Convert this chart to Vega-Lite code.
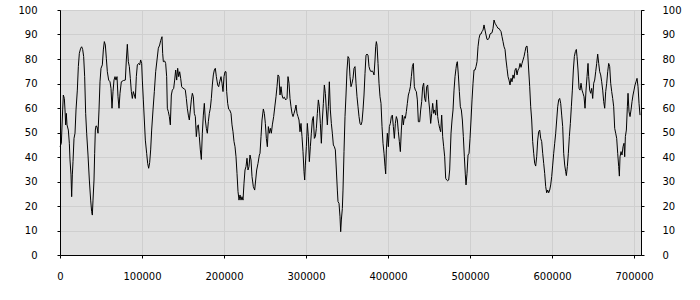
{
"$schema": "https://vega.github.io/schema/vega-lite/v6.json",
"width": 581, "height": 245,
"autosize": {"type": "none"},
"padding": {"left": 60, "top": 10, "right": 59, "bottom": 45},
"background": "white",
"config": {
 "view": {"fill": "#e0e0e0", "stroke": "#000000", "strokeWidth": 1},
 "axis": {"labelFont": "DejaVu Sans", "labelFontSize": 10, "labelColor": "#000000", "domainColor": "#000000", "tickColor": "#000000", "tickSize": 3, "gridColor": "#cfcfcf", "gridWidth": 1}
},
"data": {"values": [
{"t":0,"v":44.2},{"t":1626,"v":45.6},{"t":3252,"v":59.2},{"t":4065,"v":65.3},{"t":5285,"v":63.9},{"t":6098,"v":59.2},{"t":6911,"v":53.1},{"t":7724,"v":57.8},{"t":8537,"v":53.1},{"t":10163,"v":51.0},{"t":11382,"v":45.6},{"t":12195,"v":38.8},{"t":13415,"v":32.7},{"t":14228,"v":23.8},{"t":15041,"v":32.7},{"t":15854,"v":38.1},{"t":17073,"v":47.6},{"t":18293,"v":49.7},{"t":19512,"v":59.2},{"t":21138,"v":67.3},{"t":22358,"v":76.9},{"t":23577,"v":82.3},{"t":25203,"v":84.4},{"t":26423,"v":85.0},{"t":27642,"v":83.9},{"t":28862,"v":81.0},{"t":30081,"v":72.8},{"t":31301,"v":57.8},{"t":32520,"v":49.7},{"t":34146,"v":40.8},{"t":35772,"v":30.6},{"t":37398,"v":22.4},{"t":38618,"v":17.7},{"t":39431,"v":16.3},{"t":40244,"v":22.4},{"t":41463,"v":30.6},{"t":42276,"v":41.5},{"t":43089,"v":51.0},{"t":43902,"v":52.7},{"t":45122,"v":52.4},{"t":46341,"v":49.7},{"t":47561,"v":59.2},{"t":48780,"v":70.7},{"t":50000,"v":76.2},{"t":51626,"v":77.6},{"t":52845,"v":83.7},{"t":54065,"v":87.1},{"t":55284,"v":85.7},{"t":56504,"v":80.3},{"t":57723,"v":74.8},{"t":59349,"v":71.4},{"t":60975,"v":70.7},{"t":62195,"v":68.0},{"t":63414,"v":59.9},{"t":64634,"v":66.7},{"t":65853,"v":71.4},{"t":67073,"v":72.8},{"t":68292,"v":71.4},{"t":69512,"v":72.8},{"t":70731,"v":64.6},{"t":71951,"v":59.9},{"t":73170,"v":66.0},{"t":74796,"v":70.7},{"t":77235,"v":71.2},{"t":79674,"v":71.4},{"t":80894,"v":79.6},{"t":82113,"v":86.0},{"t":83333,"v":78.9},{"t":84552,"v":76.9},{"t":85772,"v":72.1},{"t":86991,"v":66.7},{"t":88211,"v":63.9},{"t":89430,"v":66.7},{"t":90650,"v":65.3},{"t":91869,"v":63.9},{"t":93089,"v":72.8},{"t":94308,"v":77.6},{"t":95934,"v":78.2},{"t":97154,"v":77.6},{"t":98373,"v":79.6},{"t":99593,"v":78.2},{"t":100406,"v":71.4},{"t":101625,"v":63.3},{"t":102845,"v":55.1},{"t":104064,"v":46.9},{"t":105690,"v":41.5},{"t":106910,"v":37.4},{"t":108129,"v":35.4},{"t":109349,"v":37.7},{"t":110568,"v":42.9},{"t":111788,"v":51.0},{"t":113414,"v":59.2},{"t":115040,"v":66.7},{"t":116666,"v":74.8},{"t":118292,"v":79.6},{"t":119918,"v":84.4},{"t":121544,"v":85.7},{"t":122763,"v":87.5},{"t":124389,"v":89.1},{"t":125202,"v":82.3},{"t":126015,"v":78.9},{"t":127641,"v":79.2},{"t":128861,"v":78.2},{"t":130080,"v":72.8},{"t":130893,"v":59.9},{"t":132113,"v":58.5},{"t":133332,"v":56.5},{"t":134552,"v":53.1},{"t":135771,"v":65.3},{"t":136991,"v":67.3},{"t":138617,"v":68.0},{"t":139836,"v":71.4},{"t":141056,"v":75.5},{"t":142275,"v":71.4},{"t":143495,"v":76.2},{"t":144714,"v":72.8},{"t":145934,"v":74.8},{"t":147153,"v":72.1},{"t":148373,"v":68.7},{"t":149999,"v":68.0},{"t":151218,"v":68.0},{"t":152844,"v":67.3},{"t":154064,"v":63.9},{"t":155283,"v":59.9},{"t":156503,"v":57.1},{"t":157722,"v":55.1},{"t":158942,"v":59.2},{"t":160161,"v":63.3},{"t":161381,"v":66.0},{"t":162600,"v":64.6},{"t":163820,"v":57.8},{"t":165039,"v":56.5},{"t":166259,"v":48.3},{"t":167478,"v":52.7},{"t":168698,"v":53.1},{"t":169917,"v":48.3},{"t":171137,"v":42.9},{"t":172356,"v":39.0},{"t":173576,"v":49.7},{"t":174795,"v":57.1},{"t":176015,"v":61.9},{"t":177234,"v":55.1},{"t":178454,"v":51.7},{"t":179673,"v":49.7},{"t":180893,"v":54.4},{"t":182112,"v":57.8},{"t":183332,"v":59.9},{"t":184551,"v":63.9},{"t":185771,"v":69.4},{"t":186990,"v":73.5},{"t":188210,"v":75.5},{"t":189429,"v":76.2},{"t":190649,"v":72.8},{"t":192275,"v":69.4},{"t":193494,"v":68.7},{"t":194714,"v":70.7},{"t":196340,"v":72.8},{"t":197559,"v":70.1},{"t":198779,"v":66.7},{"t":199998,"v":72.8},{"t":201218,"v":74.8},{"t":202437,"v":74.8},{"t":203250,"v":66.7},{"t":204470,"v":61.9},{"t":205689,"v":59.5},{"t":206909,"v":59.2},{"t":208535,"v":57.8},{"t":209754,"v":53.1},{"t":210974,"v":50.3},{"t":212193,"v":46.3},{"t":213413,"v":44.2},{"t":214632,"v":40.1},{"t":215852,"v":33.3},{"t":217071,"v":25.9},{"t":218291,"v":22.4},{"t":219510,"v":24.5},{"t":220730,"v":22.4},{"t":221949,"v":23.8},{"t":223169,"v":22.4},{"t":224388,"v":29.3},{"t":225608,"v":34.7},{"t":226827,"v":36.1},{"t":228047,"v":39.5},{"t":229266,"v":34.7},{"t":230486,"v":36.1},{"t":231705,"v":40.8},{"t":232925,"v":38.8},{"t":234144,"v":32.0},{"t":235770,"v":27.9},{"t":237396,"v":26.5},{"t":238616,"v":30.6},{"t":239835,"v":34.7},{"t":241461,"v":37.4},{"t":243087,"v":40.8},
{"t":243903,"v":41.5},{"t":245122,"v":48.3},{"t":246342,"v":55.1},{"t":247968,"v":59.6},{"t":249187,"v":57.8},{"t":250407,"v":53.7},{"t":251626,"v":47.6},{"t":252846,"v":44.2},{"t":254065,"v":52.4},{"t":255285,"v":49.7},{"t":256504,"v":51.7},{"t":257724,"v":49.7},{"t":258943,"v":53.1},{"t":260569,"v":56.5},{"t":262195,"v":61.2},{"t":263415,"v":64.6},{"t":264634,"v":68.7},{"t":265854,"v":73.5},{"t":267073,"v":72.8},{"t":268293,"v":65.3},{"t":269512,"v":68.7},{"t":270732,"v":65.3},{"t":271951,"v":63.9},{"t":273577,"v":64.4},{"t":275203,"v":63.3},{"t":276829,"v":63.9},{"t":278049,"v":72.8},{"t":279268,"v":70.1},{"t":280488,"v":63.9},{"t":281707,"v":60.5},{"t":282927,"v":57.8},{"t":284146,"v":56.5},{"t":285366,"v":57.8},{"t":286585,"v":59.2},{"t":287805,"v":61.2},{"t":289024,"v":57.8},{"t":290244,"v":56.5},{"t":291463,"v":55.1},{"t":292683,"v":50.3},{"t":293902,"v":53.7},{"t":295122,"v":48.3},{"t":296341,"v":42.2},{"t":297561,"v":34.0},{"t":298374,"v":30.6},{"t":299187,"v":36.7},{"t":300406,"v":44.2},{"t":301626,"v":53.7},{"t":302845,"v":48.3},{"t":304065,"v":38.1},{"t":305284,"v":44.2},{"t":306504,"v":49.7},{"t":307723,"v":55.1},{"t":308943,"v":56.5},{"t":310162,"v":47.6},{"t":311382,"v":48.3},{"t":312601,"v":51.7},{"t":313821,"v":57.8},{"t":315040,"v":63.3},{"t":316260,"v":60.5},{"t":317479,"v":53.7},{"t":318699,"v":45.6},{"t":319918,"v":55.1},{"t":321138,"v":61.9},{"t":322357,"v":69.4},{"t":323577,"v":66.0},{"t":324796,"v":59.2},{"t":326016,"v":53.1},{"t":327235,"v":60.5},{"t":328455,"v":70.7},{"t":329674,"v":59.2},{"t":330894,"v":53.7},{"t":332113,"v":49.7},{"t":333333,"v":44.9},{"t":334552,"v":44.2},{"t":335772,"v":42.9},{"t":336991,"v":34.7},{"t":338211,"v":26.5},{"t":339024,"v":21.8},{"t":340243,"v":21.1},{"t":341463,"v":15.6},{"t":342276,"v":9.5},{"t":343089,"v":14.3},{"t":344308,"v":19.0},{"t":345121,"v":26.5},{"t":346341,"v":42.2},{"t":347560,"v":56.5},{"t":348780,"v":65.3},{"t":349999,"v":75.5},{"t":351219,"v":81.0},{"t":352438,"v":80.3},{"t":353658,"v":72.8},{"t":354877,"v":68.7},{"t":356097,"v":70.1},{"t":357316,"v":72.1},{"t":358536,"v":76.2},{"t":359755,"v":76.9},{"t":360975,"v":70.1},{"t":362194,"v":64.6},{"t":363414,"v":60.5},{"t":364633,"v":56.5},{"t":365853,"v":53.7},{"t":367072,"v":53.1},{"t":368292,"v":54.4},{"t":369511,"v":59.2},{"t":370731,"v":65.3},{"t":371950,"v":74.1},{"t":373170,"v":81.6},{"t":374389,"v":82.0},{"t":375609,"v":81.6},{"t":376828,"v":76.9},{"t":378048,"v":75.5},{"t":379267,"v":74.8},{"t":380487,"v":75.2},{"t":381706,"v":74.8},{"t":382926,"v":73.5},{"t":384145,"v":79.6},{"t":384958,"v":85.0},{"t":385771,"v":87.1},{"t":386584,"v":85.7},{"t":387804,"v":78.2},{"t":389023,"v":70.1},{"t":390243,"v":64.6},{"t":391462,"v":61.9},{"t":392682,"v":52.4},{"t":393901,"v":45.6},{"t":395121,"v":41.5},{"t":396340,"v":36.1},{"t":397153,"v":33.1},{"t":397966,"v":42.9},{"t":399186,"v":49.7},{"t":400405,"v":44.2},{"t":401625,"v":52.4},{"t":402844,"v":53.7},{"t":404064,"v":56.5},{"t":405283,"v":57.1},{"t":406503,"v":52.4},{"t":407722,"v":47.6},{"t":408942,"v":53.7},{"t":410161,"v":56.5},{"t":411381,"v":55.1},{"t":412600,"v":50.3},{"t":413820,"v":46.3},{"t":415039,"v":42.2},{"t":416259,"v":51.0},{"t":417478,"v":57.1},{"t":418698,"v":53.1},{"t":419917,"v":56.5},{"t":421137,"v":55.8},{"t":422356,"v":58.5},{"t":423576,"v":61.9},{"t":424795,"v":65.3},{"t":426015,"v":66.7},{"t":427234,"v":68.7},{"t":428454,"v":72.8},{"t":429673,"v":76.9},{"t":430893,"v":78.2},{"t":432112,"v":68.7},{"t":433332,"v":67.3},{"t":434551,"v":66.7},{"t":435771,"v":63.3},{"t":436990,"v":54.4},{"t":438616,"v":54.4},{"t":439836,"v":59.2},{"t":441055,"v":62.6},{"t":442275,"v":68.7},{"t":443494,"v":70.1},{"t":444714,"v":63.9},{"t":445933,"v":62.6},{"t":447153,"v":68.7},{"t":448372,"v":69.4},{"t":449592,"v":63.3},{"t":450811,"v":59.2},{"t":452031,"v":53.7},{"t":453250,"v":57.8},{"t":454470,"v":61.9},{"t":455689,"v":57.8},{"t":456909,"v":59.2},{"t":458128,"v":57.1},{"t":459348,"v":63.3},{"t":460567,"v":56.5},{"t":461787,"v":53.7},{"t":463006,"v":51.7},{"t":464226,"v":50.3},{"t":465445,"v":57.1},{"t":466665,"v":48.3},{"t":467884,"v":44.2},{"t":469104,"v":40.1},{"t":470323,"v":31.3},{"t":471543,"v":30.6},{"t":472762,"v":30.3},{"t":473982,"v":30.6},{"t":475201,"v":34.7},
{"t":476829,"v":49.7},{"t":478049,"v":55.1},{"t":479268,"v":59.2},{"t":480488,"v":67.3},{"t":481707,"v":72.8},{"t":482927,"v":76.2},{"t":483740,"v":78.2},{"t":484553,"v":78.9},{"t":485772,"v":73.5},{"t":486992,"v":66.7},{"t":488211,"v":60.5},{"t":489431,"v":59.2},{"t":490650,"v":55.1},{"t":491870,"v":48.3},{"t":493089,"v":40.1},{"t":494309,"v":32.7},{"t":495122,"v":28.6},{"t":496341,"v":33.3},{"t":497561,"v":40.8},{"t":498780,"v":41.5},{"t":500000,"v":47.6},{"t":501219,"v":55.1},{"t":502439,"v":63.3},{"t":503658,"v":70.1},{"t":504878,"v":75.5},{"t":506097,"v":75.5},{"t":507317,"v":76.9},{"t":508536,"v":78.9},{"t":509756,"v":85.0},{"t":510975,"v":88.4},{"t":512195,"v":90.1},{"t":513414,"v":90.2},{"t":514634,"v":91.2},{"t":515853,"v":91.8},{"t":517073,"v":93.9},{"t":518292,"v":91.8},{"t":519512,"v":89.8},{"t":520731,"v":88.0},{"t":521951,"v":88.0},{"t":523170,"v":88.4},{"t":524390,"v":90.2},{"t":525609,"v":90.5},{"t":526829,"v":90.7},{"t":528048,"v":92.5},{"t":529268,"v":95.9},{"t":530487,"v":94.6},{"t":531707,"v":93.9},{"t":532926,"v":93.2},{"t":534146,"v":92.5},{"t":535365,"v":92.5},{"t":536585,"v":91.8},{"t":537804,"v":91.2},{"t":539024,"v":89.1},{"t":540243,"v":87.1},{"t":541463,"v":85.0},{"t":542682,"v":83.9},{"t":543902,"v":79.6},{"t":545121,"v":76.2},{"t":546341,"v":72.8},{"t":547560,"v":71.4},{"t":548780,"v":69.4},{"t":549999,"v":72.1},{"t":551219,"v":70.7},{"t":552438,"v":73.5},{"t":553658,"v":72.1},{"t":554877,"v":75.5},{"t":556097,"v":76.2},{"t":557316,"v":73.5},{"t":558536,"v":75.5},{"t":559755,"v":76.2},{"t":560975,"v":78.2},{"t":562194,"v":76.6},{"t":563414,"v":78.2},{"t":564633,"v":79.6},{"t":565853,"v":81.0},{"t":567072,"v":83.0},{"t":568292,"v":85.0},{"t":569511,"v":85.3},{"t":570324,"v":82.3},{"t":571544,"v":75.5},{"t":572763,"v":68.7},{"t":573983,"v":60.5},{"t":575202,"v":55.1},{"t":576422,"v":46.3},{"t":577641,"v":41.5},{"t":578861,"v":37.4},{"t":580080,"v":36.3},{"t":581300,"v":40.1},{"t":582519,"v":46.9},{"t":583739,"v":50.3},{"t":584958,"v":51.0},{"t":586178,"v":47.6},{"t":587397,"v":46.3},{"t":588617,"v":41.5},{"t":589836,"v":37.4},{"t":591056,"v":33.3},{"t":592275,"v":27.9},{"t":593495,"v":25.4},{"t":594714,"v":26.5},{"t":595934,"v":25.4},{"t":597153,"v":26.5},{"t":598373,"v":28.6},{"t":599592,"v":32.0},{"t":600812,"v":36.7},{"t":602031,"v":41.5},{"t":603251,"v":45.6},{"t":604470,"v":49.7},{"t":605690,"v":55.1},{"t":606909,"v":60.5},{"t":608129,"v":63.3},{"t":609348,"v":63.9},{"t":610568,"v":61.9},{"t":611787,"v":57.1},{"t":613007,"v":52.4},{"t":614226,"v":41.5},{"t":615446,"v":36.7},{"t":616665,"v":34.0},{"t":617478,"v":32.4},{"t":618698,"v":36.1},{"t":619917,"v":41.5},{"t":621137,"v":48.3},{"t":622356,"v":53.7},{"t":623576,"v":60.5},{"t":624795,"v":67.3},{"t":626015,"v":75.5},{"t":627234,"v":81.0},{"t":628454,"v":83.0},{"t":629673,"v":83.9},{"t":630486,"v":81.0},{"t":631706,"v":75.5},{"t":632925,"v":68.0},{"t":634145,"v":67.3},{"t":635364,"v":70.1},{"t":636584,"v":67.3},{"t":637803,"v":66.0},{"t":639023,"v":64.6},{"t":640242,"v":59.9},{"t":641462,"v":67.3},{"t":642681,"v":72.8},{"t":643901,"v":78.2},{"t":644714,"v":72.8},{"t":645934,"v":67.3},{"t":647153,"v":66.0},{"t":648373,"v":68.0},{"t":649592,"v":63.9},{"t":650812,"v":70.1},{"t":652031,"v":71.4},{"t":653251,"v":74.8},{"t":654470,"v":78.2},{"t":655690,"v":82.0},{"t":656909,"v":78.2},{"t":658129,"v":74.8},{"t":659348,"v":73.5},{"t":660568,"v":70.7},{"t":661787,"v":67.3},{"t":663007,"v":62.6},{"t":664226,"v":59.9},{"t":665446,"v":66.7},{"t":666665,"v":70.1},{"t":667885,"v":74.8},{"t":669104,"v":78.2},{"t":670324,"v":76.9},{"t":671543,"v":70.1},{"t":672763,"v":66.7},{"t":673982,"v":63.9},{"t":675202,"v":60.5},{"t":676421,"v":51.7},{"t":677641,"v":49.7},{"t":678860,"v":47.6},{"t":680080,"v":41.5},{"t":681299,"v":36.1},{"t":682112,"v":32.2},{"t":682925,"v":40.1},{"t":684145,"v":42.2},{"t":685364,"v":40.8},{"t":686584,"v":44.2},{"t":687803,"v":45.6},{"t":688616,"v":40.1},{"t":689429,"v":48.3},{"t":690648,"v":51.0},{"t":691868,"v":60.5},{"t":692681,"v":66.0},{"t":693900,"v":58.5},{"t":695120,"v":56.5},{"t":696339,"v":59.2},{"t":697559,"v":62.6},{"t":698778,"v":65.3},{"t":699998,"v":67.3},{"t":701217,"v":69.4},{"t":702437,"v":70.7},{"t":703656,"v":72.1},{"t":704876,"v":68.7},{"t":706095,"v":61.9},{"t":707315,"v":57.1}
]},
"layer": [
 {"mark": {"type": "line", "color": "#000000", "strokeWidth": 1},
  "encoding": {
   "x": {"field": "t", "type": "quantitative", "scale": {"domain": [0, 708500], "nice": false, "zero": false},
    "axis": {"title": null, "values": [0,100000,200000,300000,400000,500000,600000,700000], "format": "d", "labelPadding": 13, "grid": true, "labelFlush": false}},
   "y": {"field": "v", "type": "quantitative", "scale": {"domain": [0, 100], "nice": false},
    "axis": {"title": null, "values": [0,10,20,30,40,50,60,70,80,90,100], "labelPadding": 20, "grid": true}}
  }},
 {"mark": {"type": "line", "strokeOpacity": 0},
  "encoding": {
   "x": {"field": "t", "type": "quantitative"},
   "y": {"field": "v", "type": "quantitative",
    "axis": {"orient": "right", "title": null, "values": [0,10,20,30,40,50,60,70,80,90,100], "labelPadding": 18, "grid": false}}
  }}
],
"resolve": {"axis": {"y": "independent"}}
}
